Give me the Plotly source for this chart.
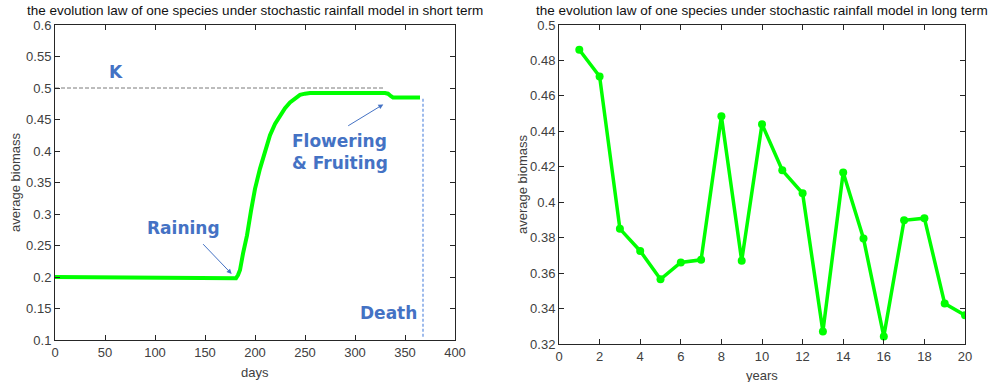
import plotly.graph_objects as go

# short-term simulation (one growing season)
days = [0, 60, 120, 178, 181, 183, 185, 188, 192, 196, 200, 205, 210, 215,
        220, 225, 230, 235, 240, 245, 250, 255, 330, 333, 336, 338, 365]
biomass_short = [0.200, 0.199, 0.198, 0.197, 0.198, 0.203, 0.211, 0.237, 0.266,
                 0.305, 0.340, 0.372, 0.400, 0.425, 0.443, 0.457, 0.468, 0.477,
                 0.484, 0.489, 0.491, 0.492, 0.492, 0.491, 0.487, 0.485, 0.485]

# long-term simulation (yearly averages)
years = list(range(1, 21))
biomass_long = [0.486, 0.471, 0.385, 0.3725, 0.3565, 0.366, 0.3675, 0.4485,
                0.367, 0.444, 0.418, 0.405, 0.327, 0.4168, 0.3795, 0.3243,
                0.3898, 0.391, 0.3428, 0.3362]

K_level = 0.5
K_end_day = 328
death_day = 368
death_low = 0.105

short_ticks_x = [0, 50, 100, 150, 200, 250, 300, 350, 400]
short_ticks_y = [0.1, 0.15, 0.2, 0.25, 0.3, 0.35, 0.4, 0.45, 0.5, 0.55, 0.6]
long_ticks_x = list(range(0, 21, 2))
long_ticks_y = [0.32, 0.34, 0.36, 0.38, 0.4, 0.42, 0.44, 0.46, 0.48, 0.5]

W, H = 995, 382
GREEN = "#00ff00"
BLUE = "#4472c4"
TEXT = "#404040"
AXIS = "#262626"
FONT = "Liberation Sans, Arial, sans-serif"
BOLD = "DejaVu Sans, sans-serif"

fig = go.Figure()

# carrying capacity reference line
fig.add_trace(go.Scatter(x=[0, K_end_day], y=[K_level, K_level], mode="lines",
                         line=dict(color="#7a7a7a", width=1, dash="4px,2px"),
                         xaxis="x", yaxis="y", hoverinfo="skip"))
# death marker
fig.add_trace(go.Scatter(x=[death_day, death_day], y=[death_low, biomass_short[-1]],
                         mode="lines", line=dict(color="#7fa5e6", width=1.5, dash="3px,2px"),
                         xaxis="x", yaxis="y", hoverinfo="skip"))
fig.add_trace(go.Scatter(x=days, y=biomass_short, mode="lines",
                         line=dict(color=GREEN, width=4),
                         xaxis="x", yaxis="y"))
fig.add_trace(go.Scatter(x=years, y=biomass_long, mode="lines+markers",
                         line=dict(color=GREEN, width=3.5),
                         marker=dict(color=GREEN, size=8),
                         xaxis="x2", yaxis="y2"))


def axis_style(domain, rng, ticks, anchor, fmt=None):
    d = dict(domain=domain, range=rng, tickvals=ticks, anchor=anchor,
             showline=True, linecolor=AXIS, linewidth=1, mirror="ticks",
             ticks="inside", ticklen=5, tickcolor=AXIS, showgrid=False,
             zeroline=False, tickfont=dict(family=FONT, size=13, color=TEXT))
    if fmt:
        d["ticktext"] = fmt
    return d


fig.update_layout(
    width=W, height=H, margin=dict(l=0, r=0, t=0, b=0, autoexpand=False),
    paper_bgcolor="white", plot_bgcolor="white", showlegend=False,
    xaxis=axis_style([55 / W, 455 / W], [0, 400], short_ticks_x, "y"),
    yaxis=axis_style([1 - 340 / H, 1 - 25 / H], [0.1, 0.6], short_ticks_y, "x",
                     [f"{v:g}" for v in short_ticks_y]),
    xaxis2=axis_style([559 / W, 965 / W], [0, 20], long_ticks_x, "y2"),
    yaxis2=axis_style([1 - 344 / H, 1 - 25 / H], [0.32, 0.5], long_ticks_y, "x2",
                      [f"{v:g}" for v in long_ticks_y]),
)


def paper_text(text, px, py, angle=0, color=TEXT, size=13):
    return dict(text=text, x=px / W, y=1 - py / H, xref="paper", yref="paper",
                xanchor="center", yanchor="middle", showarrow=False, textangle=angle,
                font=dict(family=FONT, size=size, color=color))


ann = [
    paper_text("the evolution law of one species under stochastic rainfall model in short term",
               255, 11, color="#111111", size=13.5),
    paper_text("the evolution law of one species under stochastic rainfall model in long term",
               762, 11, color="#111111", size=13.5),
    paper_text("days", 255, 372),
    paper_text("years", 762, 375),
    paper_text("average biomass", 15, 183, angle=-90),
    paper_text("average biomass", 523, 185, angle=-90),
]

# phase labels
bold = dict(family=BOLD, size=17, color=BLUE)


def phase(text, x, y):
    return dict(text=f"<b>{text}</b>", x=x, y=y, xref="x", yref="y", xanchor="center",
                yanchor="middle", showarrow=False, font=bold, align="left")


ann += [
    phase("K", 61, 0.526),
    phase("Raining", 128, 0.278),
    phase("Flowering<br>& Fruiting", 285, 0.398),
    phase("Death", 333, 0.143),
]

# pointer arrows
ann.append(dict(x=176.7, y=0.2048, ax=146.7, ay=0.2545, xref="x", yref="y", axref="x", ayref="y",
                text="", showarrow=True, arrowhead=2, arrowsize=1, arrowwidth=1, arrowcolor=BLUE))
ann.append(dict(x=328.3, y=0.474, ax=291.7, ay=0.4386, xref="x", yref="y", axref="x", ayref="y",
                text="", showarrow=True, arrowhead=2, arrowsize=1, arrowwidth=1, arrowcolor=BLUE))

fig.update_layout(annotations=ann)
fig.write_html("out.html")
